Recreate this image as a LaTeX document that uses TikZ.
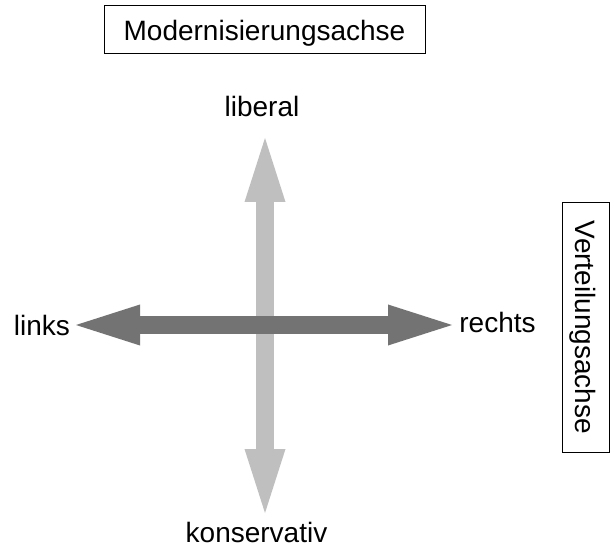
\documentclass[tikz,border=0pt]{standalone}
\usepackage{fontspec}
\setmainfont{Liberation Sans}
\usetikzlibrary{arrows.meta}

\definecolor{lightaxis}{RGB}{191,191,191}
\definecolor{darkaxis}{RGB}{115,115,115}

\tikzset{
  axisarrow/.style={line width=13.5pt,
    {Triangle[length=48pt,width=30.75pt,line width=0pt]}-{Triangle[length=48pt,width=30.75pt,line width=0pt]}},
  axislabel/.style={anchor=base,inner sep=0pt,font=\fontsize{21}{25}\selectfont},
  axisbox/.style={draw,line width=0.75pt,inner sep=0pt,text depth=0pt,font=\fontsize{21}{25}\selectfont}
}

\begin{document}
\begin{tikzpicture}[x=0.75pt,y=0.75pt,yscale=-1,xscale=1]
\useasboundingbox (0,0) rectangle (614,552);

% end points of the two axes
\coordinate (top) at (265,138);
\coordinate (bottom) at (265,513);
\coordinate (left) at (76,325);
\coordinate (right) at (452,325);

% vertical axis
\draw [axisarrow, lightaxis] (bottom) -- (top) ;
% horizontal axis
\draw [axisarrow, darkaxis] (left) -- (right) ;

% Text Node
\node [axislabel] (liberal) at (262,117) {liberal};
% Text Node
\node [axislabel] (konservativ) at (256.5,542) {konservativ};
% Text Node
\node [axislabel] (links) at (42,335) {links};
% Text Node
\node [axislabel] (rechts) at (497.5,333) {rechts};

% Boxes
\node [axisbox, minimum width=240.75pt, minimum height=36pt] (modern) at (264.5,30) {Modernisierungsachse};
\node [axisbox, rotate=-90, minimum width=186.75pt, minimum height=35.25pt] (verteilung) at (585.5,327.5) {Verteilungsachse};

\end{tikzpicture}
\end{document}
